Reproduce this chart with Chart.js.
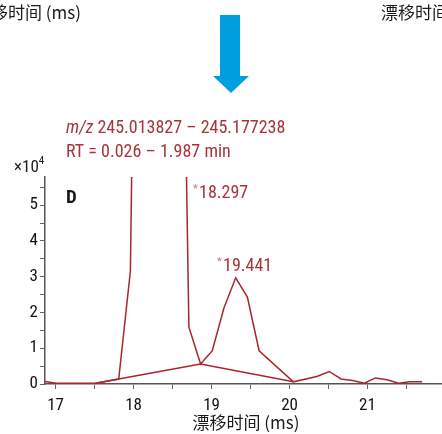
<!DOCTYPE html>
<html>
<head>
<meta charset="utf-8">
<script src="https://cdn.jsdelivr.net/npm/chart.js@4.4.0/dist/chart.umd.min.js"></script>
<style>
  html, body { margin: 0; padding: 0; background: #fff; }
  #wrap { width: 442px; height: 434px; position: relative; }
</style>
</head>
<body>
<div id="wrap"><canvas id="mobChart" width="442" height="434"></canvas></div>
<script>
// 漂移时间 (ms) / 强度 (×10^4)
const driftTimes = [16.86, 17.01, 17.21, 17.36, 17.51, 17.66, 17.81, 17.96, 18.11, 18.26, 18.41, 18.56,
    18.71, 18.86, 19.01, 19.16, 19.31, 19.46, 19.61, 20.05, 20.35, 20.51, 20.66, 20.81, 20.96,
    21.10, 21.25, 21.40, 21.54, 21.70];
const intensities = [0.07, 0.02, 0.02, 0.02, 0.02, 0.08, 0.14, 3.16, 28, 46, 38, 22,
    1.59, 0.56, 0.93, 2.13, 2.97, 2.43, 0.93, 0.06, 0.21, 0.35, 0.14, 0.10, 0.02,
    0.17, 0.12, 0.02, 0.06, 0.06];

// второй (разреженный) след
const sparseTimes = [17.51, 18.86, 20.05];
const sparseValues = [0.02, 0.56, 0.06];

const xTicks = [17, 18, 19, 20, 21];
const yTicks = [0, 1, 2, 3, 4, 5];

const peakLabels = ["18.297", "19.441"];

const RED = "#a8262c";
const TEXT_RED = "#a8343a";
const NARROW = "'Liberation Sans Narrow', 'Roboto Condensed', Roboto, sans-serif";
const CJK = "'Noto Sans CJK SC', 'Noto Sans', sans-serif";

function toPoints(xs, ys) {
    return xs.map((x, i) => ({ x: x, y: ys[i] }));
}

const extras = {
    id: "extras",
    afterDraw(chart) {
        const ctx = chart.ctx;
        ctx.save();

        // верхние подписи (обрезанные края рисунка)
        ctx.fillStyle = "#1a1a1a";
        ctx.font = "17px " + CJK;
        ctx.textBaseline = "middle";
        ctx.textAlign = "right";
        ctx.fillText("漂移时间 (ms)", 81, 13);
        ctx.textAlign = "left";
        ctx.fillText("漂移时间 (ms)", 381, 13);

        // стрелка
        ctx.fillStyle = "#00a0e0";
        ctx.beginPath();
        ctx.moveTo(220, 15);
        ctx.lineTo(240, 15);
        ctx.lineTo(240, 76);
        ctx.lineTo(249, 76);
        ctx.lineTo(231, 93);
        ctx.lineTo(213, 76);
        ctx.lineTo(220, 76);
        ctx.closePath();
        ctx.fill();

        // заголовок
        ctx.textBaseline = "alphabetic";
        ctx.textAlign = "left";
        ctx.fillStyle = TEXT_RED;
        ctx.font = "italic 18px " + NARROW;
        ctx.fillText("m/z", 66, 133);
        let w = ctx.measureText("m/z ").width;
        ctx.font = "18px " + NARROW;
        ctx.fillText("245.013827 – 245.177238", 66 + w, 133);
        ctx.fillText("RT = 0.026 – 1.987 min", 66, 157);

        // ×10^4
        ctx.fillStyle = "#1a1a1a";
        ctx.font = "17px " + NARROW;
        ctx.fillText("×10", 14, 172);
        w = ctx.measureText("×10").width;
        ctx.font = "11px " + NARROW;
        ctx.fillText("4", 14 + w, 164);

        // D
        ctx.font = "bold 19px " + NARROW;
        ctx.fillText("D", 66, 203);

        // метки пиков
        const spots = [[193, 198], [217, 271]];
        peakLabels.forEach((t, i) => {
            const [px, py] = spots[i];
            ctx.fillStyle = "#c9757a";
            ctx.font = "11px " + NARROW;
            ctx.fillText("*", px, py - 6);
            ctx.fillStyle = TEXT_RED;
            ctx.font = "18px " + NARROW;
            ctx.fillText(t, px + 6, py);
        });

        // подпись оси X
        ctx.fillStyle = "#1a1a1a";
        ctx.font = "17px " + CJK;
        ctx.textAlign = "center";
        ctx.textBaseline = "middle";
        ctx.fillText("漂移时间 (ms)", 246, 423);

        ctx.restore();
    }
};

const ctx = document.getElementById("mobChart").getContext("2d");
new Chart(ctx, {
    type: "line",
    data: {
        datasets: [{
            data: toPoints(driftTimes, intensities),
            borderColor: RED,
            borderWidth: 1.5,
            pointRadius: 0,
            tension: 0,
            fill: false
        }, {
            data: toPoints(sparseTimes, sparseValues),
            borderColor: RED,
            borderWidth: 1.5,
            pointRadius: 0,
            tension: 0,
            fill: false
        }]
    },
    options: {
        responsive: false,
        animation: false,
        devicePixelRatio: 1,
        layout: { padding: { top: 177, left: 0, right: 0, bottom: 0 } },
        plugins: {
            legend: { display: false },
            tooltip: { enabled: false }
        },
        scales: {
            x: {
                type: "linear",
                min: 16.865,
                max: 21.955,
                afterFit: s => { s.height = 50; },
                ticks: {
                    stepSize: 0.5,
                    includeBounds: false,
                    autoSkip: false,
                    maxRotation: 0,
                    padding: 7,
                    color: "#111",
                    font: { family: NARROW, size: 17 },
                    callback: v => xTicks.includes(v) ? String(v) : ""
                },
                grid: { drawOnChartArea: false, drawTicks: true, tickLength: 5, color: "#666" },
                border: { color: "#555", width: 1.5 }
            },
            y: {
                min: 0,
                max: 5.79,
                afterFit: s => { s.width = 45; },
                ticks: {
                    stepSize: 0.5,
                    includeBounds: false,
                    autoSkip: false,
                    padding: 2,
                    color: "#111",
                    font: { family: NARROW, size: 17 },
                    callback: v => yTicks.includes(v) ? String(v) : ""
                },
                grid: { drawOnChartArea: false, drawTicks: true, tickLength: 5, color: "#666" },
                border: { color: "#555", width: 1.5 }
            }
        }
    },
    plugins: [extras]
});
</script>
</body>
</html>
